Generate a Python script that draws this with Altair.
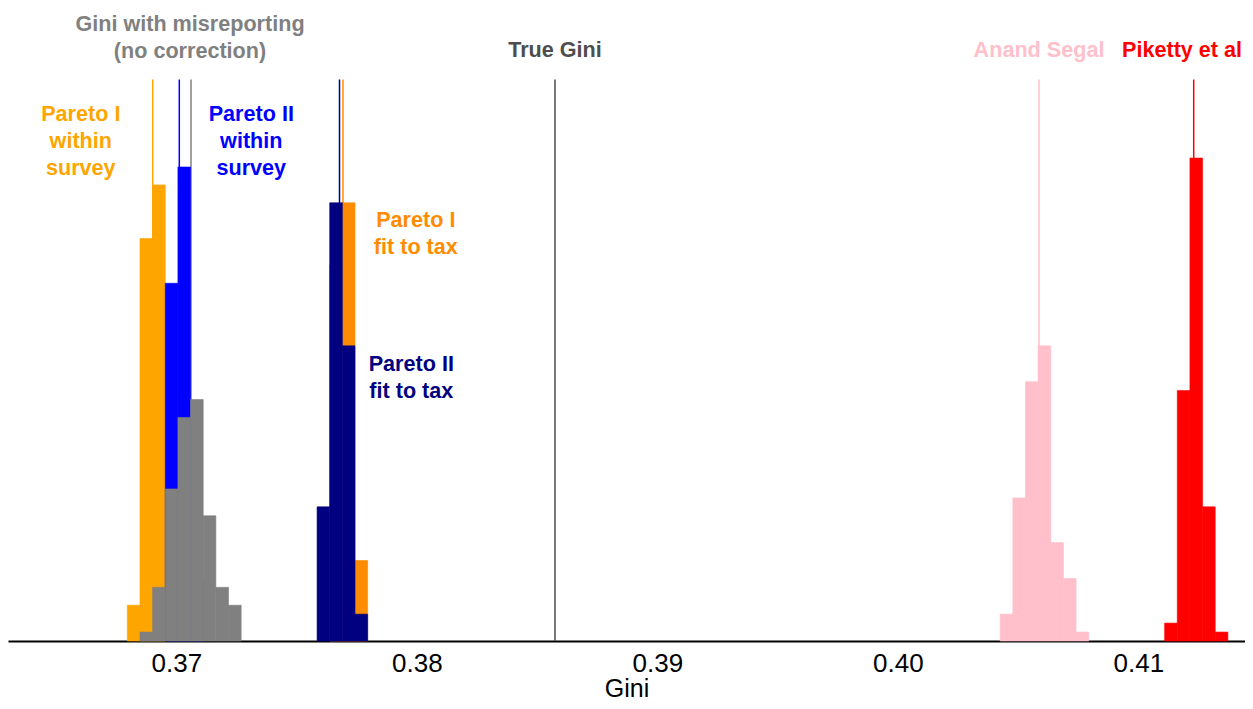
import altair as alt
import pandas as pd

# ---- data ----
series_names = ["Pareto I within survey", "Pareto II within survey",
                "Gini with misreporting", "Pareto I fit to tax",
                "Pareto II fit to tax", "Anand Segal", "Piketty et al", "True Gini"]
series_colors = ["#FFA500", "#0000FF", "#808080", "#FF8C00",
                 "#000080", "#FFC0CB", "#FF0000", "#4D4D4D"]

bin_width = 0.000526

p1_survey_bins = [0.367963, 0.368489, 0.369015]
p1_survey_counts = [4, 45, 51]

p2_survey_bins = [0.369541, 0.370067, 0.370593]
p2_survey_counts = [40, 53, 7]

misrep_bins = [0.368489, 0.369015, 0.369541, 0.370067, 0.370593,
               0.371119, 0.371645, 0.372171]
misrep_counts = [1, 6, 17, 25, 27, 14, 6, 4]

p1_tax_bins = [0.376379, 0.376905, 0.377431]
p1_tax_counts = [42, 49, 9]

p2_tax_bins = [0.375853, 0.376379, 0.376905, 0.377431]
p2_tax_counts = [15, 49, 33, 3]

anand_bins = [0.404257, 0.404783, 0.405309, 0.405835, 0.406361, 0.406887, 0.407413]
anand_counts = [3, 16, 29, 33, 11, 7, 1]

piketty_bins = [0.411095, 0.411621, 0.412147, 0.412673, 0.413199]
piketty_counts = [2, 28, 54, 15, 1]

# reference (mean) lines
line_series = ["Pareto I within survey", "Pareto II within survey",
               "Gini with misreporting", "Pareto II fit to tax",
               "Pareto I fit to tax", "True Gini", "Anand Segal", "Piketty et al"]
line_values = [0.369019, 0.370125, 0.370611, 0.376786,
               0.376931, 0.385746, 0.405871, 0.412304]

# annotation labels
label_series = ["Gini with misreporting", "True Gini", "Anand Segal", "Piketty et al",
                "Pareto I within survey", "Pareto II within survey",
                "Pareto I fit to tax", "Pareto II fit to tax"]
label_texts = ["Gini with misreporting\n(no correction)", "True Gini", "Anand Segal",
               "Piketty et al", "Pareto I\nwithin\nsurvey", "Pareto II\nwithin\nsurvey",
               "Pareto I\nfit to tax", "Pareto II\nfit to tax"]
label_x = [0.370570, 0.385746, 0.405871, 0.411820,
           0.366029, 0.373119, 0.379958, 0.379771]
label_y = [68.2, 65.3, 65.3, 65.3, 58.2, 58.2, 46.3, 30.2]

x_ticks = [0.37, 0.38, 0.39, 0.40, 0.41]
x_domain = [0.363002, 0.414437]
y_domain = [0, 70.78]
panel_top = 62.78

# ---- build tables ----
hist_parts = [
    ("Pareto I within survey", p1_survey_bins, p1_survey_counts),
    ("Pareto II within survey", p2_survey_bins, p2_survey_counts),
    ("Gini with misreporting", misrep_bins, misrep_counts),
    ("Pareto I fit to tax", p1_tax_bins, p1_tax_counts),
    ("Pareto II fit to tax", p2_tax_bins, p2_tax_counts),
    ("Anand Segal", anand_bins, anand_counts),
    ("Piketty et al", piketty_bins, piketty_counts),
]
rows = []
draw = 0
for name, bins, counts in hist_parts:
    for b, c in zip(bins, counts):
        rows.append({"series": name, "start": b, "end": b + bin_width,
                     "count": c, "base": 0, "draw": draw})
        draw += 1
hist_df = pd.DataFrame(rows)

lines_df = pd.DataFrame({"series": line_series, "gini": line_values,
                         "y0": 0.0, "y1": panel_top})
labels_df = pd.DataFrame({"series": label_series, "text": label_texts,
                          "x": label_x, "y": label_y})

color_scale = alt.Scale(domain=series_names, range=series_colors)
xs = alt.Scale(domain=x_domain, nice=False, zero=False)
ys = alt.Scale(domain=y_domain, nice=False, zero=True)

x_axis = alt.Axis(values=x_ticks, format=".2f", title="Gini", grid=False,
                  ticks=False, labelFontSize=26, labelFont="Liberation Sans",
                  labelColor="black", labelPadding=9, domainColor="black",
                  domainWidth=2, titleFont="Liberation Sans", titleFontSize=25,
                  titleFontWeight="normal", titleColor="black", titlePadding=0)

rules = alt.Chart(lines_df).mark_rule(strokeWidth=1.5).encode(
    x=alt.X("gini:Q", scale=xs, axis=x_axis),
    y=alt.Y("y0:Q", scale=ys, axis=None),
    y2="y1:Q",
    color=alt.Color("series:N", scale=color_scale, legend=None),
)

bars = alt.Chart(hist_df).mark_rect(strokeWidth=0.6).encode(
    x=alt.X("start:Q", scale=xs, axis=x_axis),
    x2="end:Q",
    y=alt.Y("count:Q", scale=ys, axis=None),
    y2="base:Q",
    color=alt.Color("series:N", scale=color_scale, legend=None),
    stroke=alt.Stroke("series:N", scale=color_scale, legend=None),
    order=alt.Order("draw:Q"),
)

labels = alt.Chart(labels_df).mark_text(
    font="Liberation Sans", fontSize=21.6, fontWeight="bold", align="center",
    baseline="alphabetic", lineBreak="\n", lineHeight=27,
).encode(
    x=alt.X("x:Q", scale=xs, axis=x_axis),
    y=alt.Y("y:Q", scale=ys, axis=None),
    text="text:N",
    color=alt.Color("series:N", scale=color_scale, legend=None),
)

chart = alt.layer(rules, bars, labels).properties(
    width=1237, height=633,
    autosize=alt.AutoSizeParams(type="none"),
    padding={"left": 0, "right": 0, "top": 0, "bottom": 60},
).configure_view(stroke=None)

chart.save("out.html", embed_options={"renderer": "svg", "actions": False})
